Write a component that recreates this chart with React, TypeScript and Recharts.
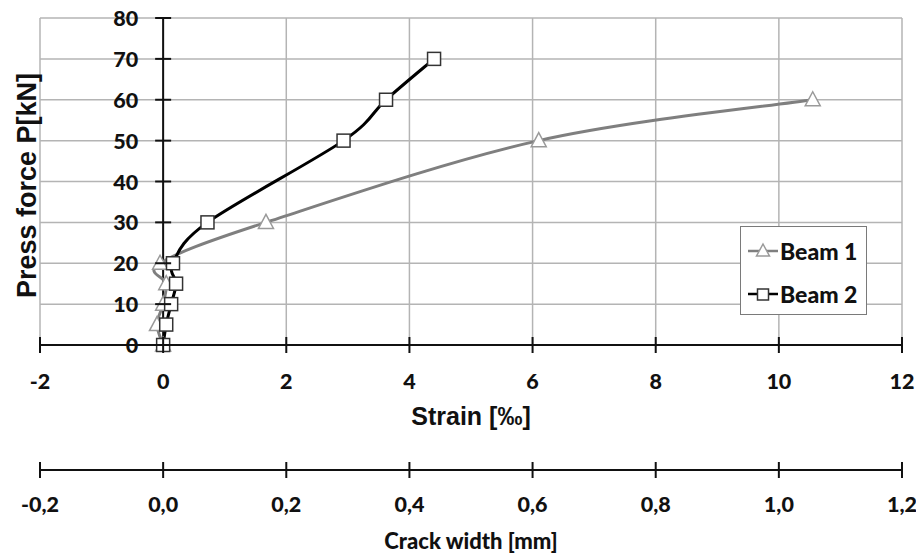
import React from 'react';
import { LineChart, Line, XAxis, YAxis, CartesianGrid, ReferenceLine, Legend } from 'recharts';

// ---- data ----
const beam1Strain = [0, -0.1, 0.0, 0.05, -0.05, 1.67, 6.1, 10.55];
const beam1Force = [0, 5, 10, 15, 20, 30, 50, 60];
const beam2Strain = [0, 0.05, 0.13, 0.21, 0.16, 0.72, 2.93, 3.62, 4.4];
const beam2Force = [0, 5, 10, 15, 20, 30, 50, 60, 70];

const strainTicks = [-2, 0, 2, 4, 6, 8, 10, 12];
const forceTicks = [0, 10, 20, 30, 40, 50, 60, 70, 80];
const crackTicks = [-0.2, 0, 0.2, 0.4, 0.6, 0.8, 1.0, 1.2];

const beam1 = beam1Strain.map((s, i) => ({ strain: s, force: beam1Force[i] }));
const beam2 = beam2Strain.map((s, i) => ({ strain: s, force: beam2Force[i] }));
// secondary scale (crack width) spans the same width as the strain axis
const crackRange = [
  { crack: crackTicks[0], force: 0 },
  { crack: crackTicks[crackTicks.length - 1], force: 0 },
];

// ---- layout ----
const W = 916;
const H = 557;
const MARGIN = { top: 18, right: 14, left: 39, bottom: 0 };
const Y_AXIS_W = 1;
const PLOT_W = W - MARGIN.left - Y_AXIS_W - MARGIN.right;
const X_MIN = -2;
const X_MAX = 12;
const Y_AXIS_OFFSET = (PLOT_W * (0 - X_MIN)) / (X_MAX - X_MIN);
const FONT = 'Lato, "Open Sans", sans-serif';
const ARIAL = '"Liberation Sans", Arial, sans-serif';
const TICK_FS = 21.5;
const TICK_FW = 900;

// Catmull-Rom style smoothing (like Excel smoothed lines)
const smoothCurve: any = (context: any) => {
  let pts: number[][] = [];
  return {
    areaStart() {},
    areaEnd() {},
    lineStart() {
      pts = [];
    },
    point(x: number, y: number) {
      pts.push([+x, +y]);
    },
    lineEnd() {
      if (!pts.length) return;
      context.moveTo(pts[0][0], pts[0][1]);
      const k = 1 / 6;
      for (let i = 0; i < pts.length - 1; i++) {
        const p0 = pts[i - 1] || pts[i];
        const p1 = pts[i];
        const p2 = pts[i + 1];
        const p3 = pts[i + 2] || p2;
        context.bezierCurveTo(
          p1[0] + (p2[0] - p0[0]) * k,
          p1[1] + (p2[1] - p0[1]) * k,
          p2[0] - (p3[0] - p1[0]) * k,
          p2[1] - (p3[1] - p1[1]) * k,
          p2[0],
          p2[1]
        );
      }
    },
  };
};

const TriangleDot = (props: any) => {
  const { cx, cy } = props;
  if (cx == null || cy == null) return null;
  return (
    <path
      d={`M${cx},${cy - 8} L${cx + 7.5},${cy + 6} L${cx - 7.5},${cy + 6} Z`}
      fill="#fff"
      stroke="#9a9a9a"
      strokeWidth={1.5}
    />
  );
};

const SquareDot = (props: any) => {
  const { cx, cy } = props;
  if (cx == null || cy == null) return null;
  return <rect x={cx - 6.5} y={cy - 6.5} width={13} height={13} fill="#fff" stroke="#333" strokeWidth={1.5} />;
};

const StrainTick = (props: any) => {
  const { x, y, payload } = props;
  return (
    <g>
      <line x1={x} x2={x} y1={y - 8} y2={y + 8} stroke="#111" strokeWidth={2} />
      <text x={x} y={y + 36} textAnchor="middle" dominantBaseline="central" fontFamily={FONT} fontWeight={TICK_FW} fontSize={TICK_FS} fill="#111">
        {payload.value}
      </text>
    </g>
  );
};

const CrackTick = (props: any) => {
  const { x, y, payload } = props;
  const label = Number(payload.value).toFixed(1).replace('.', ',');
  return (
    <g>
      <line x1={x} x2={x} y1={y - 8} y2={y + 8} stroke="#111" strokeWidth={2} />
      <text x={x} y={y + 34} textAnchor="middle" dominantBaseline="central" fontFamily={FONT} fontWeight={TICK_FW} fontSize={TICK_FS} fill="#111">
        {label}
      </text>
    </g>
  );
};

const ForceTick = (props: any) => {
  const { x, y, payload } = props;
  const x0 = x + Y_AXIS_OFFSET;
  return (
    <g>
      <line x1={x0 - 8} x2={x0 + 8} y1={y} y2={y} stroke="#111" strokeWidth={2} />
      <text x={x0 - 25} y={y} textAnchor="end" dominantBaseline="central" fontFamily={FONT} fontWeight={TICK_FW} fontSize={TICK_FS} fill="#111">
        {payload.value}
      </text>
    </g>
  );
};

const StrainTitle = (props: any) => {
  const vb = props.viewBox;
  return (
    <text x={vb.x + vb.width / 2} y={vb.y + 71} textAnchor="middle" dominantBaseline="central" fontFamily={ARIAL} fontWeight={700} fontSize={25} fill="#111">
      Strain [‰]
    </text>
  );
};

const CrackTitle = (props: any) => {
  const vb = props.viewBox;
  return (
    <text x={vb.x + vb.width / 2} y={vb.y + 70} textAnchor="middle" dominantBaseline="central" fontFamily={FONT} fontWeight={900} fontSize={22} fill="#111">
      Crack width [mm]
    </text>
  );
};

const ForceTitle = (props: any) => {
  const vb = props.viewBox;
  const cx = vb.x - 12;
  const cy = vb.y + vb.height / 2 + 4;
  return (
    <text x={cx} y={cy} transform={`rotate(-90 ${cx} ${cy})`} textAnchor="middle" dominantBaseline="central" fontFamily={ARIAL} fontWeight={700} fontSize={27} fill="#111">
      Press force P[kN]
    </text>
  );
};

const LegendContent = (props: any) => {
  const payload = (props.payload || []).filter((e: any) => e.value === 'Beam 1' || e.value === 'Beam 2');
  return (
    <div
      style={{
        width: 127,
        height: 89,
        boxSizing: 'border-box',
        border: '1.5px solid #7a7a7a',
        background: '#fff',
        paddingTop: 6,
      }}
    >
      {payload.map((entry: any, i: number) => (
        <div key={i} style={{ display: 'flex', alignItems: 'center', height: 36, marginBottom: i === 0 ? 7 : 0 }}>
          <svg width={36} height={20} style={{ marginLeft: 6, flex: 'none' }}>
            <line x1={1} x2={31} y1={10} y2={10} stroke={entry.color} strokeWidth={2.5} />
            {i === 0 ? (
              <path d="M16,3 L22.5,15 L9.5,15 Z" fill="#fff" stroke="#9a9a9a" strokeWidth={1.5} />
            ) : (
              <rect x={10.5} y={5} width={11} height={11} fill="#fff" stroke="#333" strokeWidth={1.5} />
            )}
          </svg>
          <span style={{ fontFamily: FONT, fontWeight: 900, fontSize: 23, color: '#111', marginLeft: -3 }}>{entry.value}</span>
        </div>
      ))}
    </div>
  );
};

export default function App() {
  return (
    <div style={{ position: 'absolute', left: 0, top: 0, width: W, height: H, background: '#fff' }}>
      <LineChart width={W} height={H} margin={MARGIN}>
        <CartesianGrid stroke="#b4b4b4" strokeWidth={1.5} />
        <XAxis
          xAxisId={0}
          dataKey="strain"
          type="number"
          domain={[X_MIN, X_MAX]}
          ticks={strainTicks}
          allowDataOverflow
          height={125}
          axisLine={{ stroke: '#111', strokeWidth: 2 }}
          tickLine={false}
          tickSize={0}
          tickMargin={0}
          tick={<StrainTick />}
          interval={0}
          label={{ content: <StrainTitle /> } as any}
        />
        <XAxis
          xAxisId="crack"
          dataKey="crack"
          type="number"
          domain={[crackTicks[0], crackTicks[crackTicks.length - 1]]}
          ticks={crackTicks}
          allowDataOverflow
          height={87}
          axisLine={{ stroke: '#111', strokeWidth: 2 }}
          tickLine={false}
          tickSize={0}
          tickMargin={0}
          tick={<CrackTick />}
          interval={0}
          label={{ content: <CrackTitle /> } as any}
        />
        <YAxis
          dataKey="force"
          type="number"
          domain={[0, 80]}
          ticks={forceTicks}
          width={Y_AXIS_W}
          axisLine={false}
          tickLine={false}
          tickSize={0}
          tickMargin={0}
          tick={<ForceTick />}
          interval={0}
          label={{ content: <ForceTitle /> } as any}
        />
        <ReferenceLine x={0} stroke="#111" strokeWidth={2} />
        <Legend
          layout="vertical"
          align="center"
          verticalAlign="middle"
          content={<LegendContent />}
          wrapperStyle={{ position: 'absolute', left: 740, top: 226, width: 127, height: 89 }}
        />
        <Line
          xAxisId="crack"
          data={crackRange}
          dataKey="force"
          stroke="none"
          dot={false}
          activeDot={false}
          legendType="none"
          isAnimationActive={false}
        />
        <Line
          name="Beam 1"
          data={beam1}
          dataKey="force"
          type={smoothCurve}
          stroke="#7f7f7f"
          strokeWidth={3}
          dot={<TriangleDot />}
          isAnimationActive={false}
        />
        <Line
          name="Beam 2"
          data={beam2}
          dataKey="force"
          type={smoothCurve}
          stroke="#000"
          strokeWidth={3}
          dot={<SquareDot />}
          isAnimationActive={false}
        />
      </LineChart>
    </div>
  );
}
